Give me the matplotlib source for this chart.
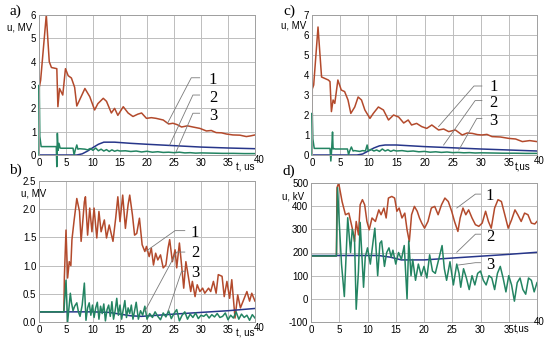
import matplotlib
matplotlib.use("Agg")
import matplotlib.pyplot as plt

# ---- panel a) ----
a1_t = [0, 0.05, 0.3, 1.35, 1.9, 2.3, 3.3, 3.5, 3.8, 4.4, 4.9, 5.4, 6.0, 6.6, 7.0, 7.5, 8.5, 9.4, 10.3, 10.9,
        11.9, 12.5, 13.4, 14.0, 14.6, 15.6, 16.5, 17.4, 18.3, 19.0, 19.9, 20.8, 21.7, 23.0, 24.0, 24.8, 25.6, 26.4,
        27.5, 28.5, 29.8, 31.0, 31.9, 32.8, 33.8, 34.7, 35.9, 37.2, 38.4, 39.2, 40]
a1_u = [0, 2.9, 3.2, 6.0, 4.0, 3.75, 3.7, 2.07, 2.85, 2.57, 3.7, 3.4, 3.3, 2.9, 2.1, 2.35, 2.85, 2.5, 1.93, 2.2,
        2.43, 2.3, 1.8, 2.0, 1.7, 2.07, 1.8, 1.65, 1.75, 1.8, 1.57, 1.6, 1.57, 1.5, 1.33, 1.36, 1.3, 1.2,
        1.25, 1.2, 1.14, 1.03, 1.05, 0.96, 0.95, 0.9, 0.86, 0.85, 0.79, 0.82, 0.86]
a2_t = [0, 7, 8, 9, 10, 11, 12, 14, 17, 20, 25, 30, 35, 40]
a2_u = [0, 0, 0.05, 0.17, 0.32, 0.46, 0.55, 0.55, 0.5, 0.46, 0.4, 0.34, 0.3, 0.27]
a3_t = [0, 0.05, 0.15, 0.4, 3.2, 3.3, 3.4, 3.55, 3.7, 3.9, 4.1, 6.3, 6.5, 6.7, 7.0, 7.2, 7.5, 8.0, 8.5, 9.0,
        9.5, 10, 10.5, 11, 11.5, 12, 12.5, 13, 13.5, 14, 14.5, 15, 16, 17, 18, 19, 20, 21, 22, 23,
        24, 25, 26, 27, 28, 29, 30, 32, 34, 36, 38, 40]
a3_u = [0, 3.0, 0.8, 0.36, 0.36, -0.5, 0.93, 0.2, 0.5, 0.3, 0.29, 0.29, 0.0, 0.2, 0.43, 0.25, 0.27, 0.26, 0.25, 0.22,
        0.28, 0.2, 0.3, 0.18, 0.25, 0.17, 0.23, 0.15, 0.22, 0.16, 0.2, 0.17, 0.18, 0.15, 0.17, 0.13, 0.16, 0.12, 0.14, 0.11,
        0.12, 0.1, 0.12, 0.09, 0.1, 0.08, 0.09, 0.08, 0.07, 0.07, 0.06, 0.06]

# ---- panel b) ----
b1_t = [0, 4.6, 4.7, 5.0, 5.3, 5.6, 5.9, 6.1, 6.5, 7.0, 7.5, 7.8, 8.4, 8.6, 9.0, 9.4, 9.8, 10.2, 10.7, 11.1,
        11.5, 12.1, 12.5, 13.0, 13.7, 14.2, 14.6, 15.0, 15.5, 16.0, 16.5, 16.8, 17.3, 17.7, 18.1, 18.6, 19.1, 19.6, 19.9, 20.4,
        20.8, 21.2, 21.6, 22.0, 22.5, 23.0, 23.5, 23.9, 24.2, 24.7, 25.2, 25.5, 26.0, 26.4, 26.8, 27.2, 27.6, 28.1, 28.4, 28.9,
        29.3, 29.8, 30.3, 30.7, 31.4, 31.8, 32.3, 32.8, 33.2, 33.9, 34.3, 34.8, 35.3, 35.7, 36.3, 36.8, 37.3, 37.8, 38.5, 39.0,
        39.4, 40]
b1_u = [0.18, 0.18, 0.8, 1.63, 0.78, 1.07, 1.0, 1.46, 1.8, 2.19, 1.96, 1.43, 2.13, 2.22, 1.54, 2.02, 1.6, 2.02, 1.49, 1.96,
        1.6, 1.81, 1.49, 1.72, 1.43, 1.84, 2.22, 1.78, 2.25, 1.66, 2.08, 2.25, 1.9, 1.54, 1.57, 1.84, 1.37, 1.25, 1.34, 1.16,
        1.31, 1.01, 1.22, 1.1, 1.19, 0.96, 1.01, 1.31, 1.46, 1.07, 1.28, 0.96, 1.4, 1.01, 0.6, 1.07, 0.84, 0.54, 0.72, 0.45,
        0.66, 0.54, 0.6, 0.51, 0.6, 0.54, 0.72, 0.51, 0.84, 0.81, 0.45, 0.72, 0.42, 0.75, 0.07, 0.48, 0.25, 0.37, 0.54, 0.37,
        0.51, 0.37]
b2_t = [0, 4.6, 10, 13, 15, 17, 19, 22, 25, 30, 35, 40]
b2_u = [0.18, 0.18, 0.18, 0.17, 0.14, 0.11, 0.1, 0.12, 0.14, 0.17, 0.2, 0.24]
b3_t = [0, 4.6, 4.8, 5.0, 5.3, 5.6, 5.8, 6.0, 6.3, 6.6, 7.0, 7.3, 7.6, 8.0, 8.4, 8.7, 9.0, 9.3, 9.6, 9.9,
        10.2, 10.5, 10.8, 11.1, 11.4, 11.7, 12.0, 12.3, 12.6, 12.9, 13.2, 13.5, 13.8, 14.1, 14.4, 14.7, 15.0, 15.3, 15.6, 15.9,
        16.2, 16.5, 16.8, 17.1, 17.4, 17.7, 18.0, 18.4, 18.8, 19.2, 19.6, 20.0,
        20.5, 21.0, 21.5, 22.0, 22.5, 23.0, 23.5, 24.0, 24.5, 25.0, 25.5, 26.0, 26.5, 27.0, 27.5, 28.0, 28.5, 29.0, 29.5, 30.0,
        30.5, 31.0, 31.5, 32.0, 32.5, 33.0, 33.5, 34.0, 34.5, 35.0, 35.5, 36.0, 36.5, 37.0, 37.5, 38.0, 38.5, 39.0, 39.5, 40.0]
b3_u = [0.18, 0.18, 0.45, 0.74, 0.0, 0.3, 0.51, 0.35, 0.2, 0.28, 0.34, 0.18, 0.1, 0.3, 0.69, 0.03, 0.25, 0.34, 0.12, 0.3,
        0.08, 0.25, 0.35, 0.05, 0.28, 0.15, 0.32, 0.02, 0.22, 0.3, 0.1, 0.36, 0.05, 0.2, 0.42, 0.12, 0.3, 0.05, 0.22, 0.38,
        0.08, 0.25, 0.15, 0.3, 0.05, 0.2, 0.35, 0.05, 0.2, 0.12, 0.28, 0.05,
        0.15, 0.08, 0.18, 0.1, 0.04, 0.16, 0.09, 0.2, 0.06, 0.15, 0.22, 0.02, 0.12, 0.18, 0.05, 0.14, 0.08, 0.16, 0.06, 0.12,
        0.1, 0.14, 0.07, 0.13, 0.09, 0.15, 0.08, 0.1, 0.16, 0.04, 0.12, 0.07, 0.18, 0.05, 0.14, 0.08, 0.12, 0.03, 0.13, 0.07]

# ---- panel c) ----
c1_t = [0, 0.05, 0.3, 1.07, 1.7, 2.9, 3.2, 3.45, 3.75, 4.05, 4.6, 5.2, 5.8, 6.4, 6.9, 7.6, 8.2, 8.8, 9.4, 10.3,
        10.9, 11.8, 12.7, 13.6, 14.5, 15.4, 16.3, 17.1, 17.7, 18.6, 19.5, 20.4, 21.3, 22.5, 23.4, 24.3, 25.5, 26.7, 27.6, 28.5,
        29.4, 30.2, 31.1, 32.0, 33.5, 35.0, 36.2, 37.4, 38.7, 40]
c1_u = [0, 3.3, 3.5, 6.4, 3.9, 3.75, 3.67, 2.17, 2.75, 2.58, 3.75, 3.25, 3.17, 2.75, 2.08, 2.4, 2.9, 2.75, 2.25, 1.83,
        2.08, 2.4, 2.25, 1.75, 2.0, 1.9, 1.6, 1.75, 1.5, 1.58, 1.42, 1.33, 1.5, 1.25, 1.3, 1.17, 1.25, 1.0, 1.1, 1.08,
        1.02, 1.0, 1.03, 0.92, 0.9, 0.83, 0.8, 0.67, 0.72, 0.67]
c2_t = [0, 8, 9, 10, 11, 12, 13, 15, 20, 25, 30, 35, 40]
c2_u = [0, 0, 0.05, 0.2, 0.35, 0.46, 0.5, 0.5, 0.42, 0.36, 0.3, 0.25, 0.2]
c3_t = [0, 0.05, 0.15, 0.4, 3.2, 3.35, 3.5, 3.65, 3.75, 3.9, 4.1, 6.3, 6.5, 6.7, 7.0, 7.3, 7.6, 8.0, 8.5, 9.0,
        9.5, 9.8, 10.0, 10.5, 11, 11.5, 12, 12.5, 13, 13.5, 14, 14.5, 15, 16, 17, 18, 19, 20, 21, 22,
        23, 24, 25, 26, 27, 28, 29, 30, 32, 34, 36, 38, 40]
c3_u = [0, 2.1, 0.8, 0.33, 0.33, -0.3, 0.3, 1.15, 0.3, 0.32, 0.3, 0.3, 0.02, 0.2, 0.4, 0.2, 0.22, 0.2, 0.18, 0.22,
        0.2, 0.5, 0.2, 0.28, 0.2, 0.25, 0.18, 0.3, 0.2, 0.26, 0.18, 0.24, 0.2, 0.22, 0.18, 0.2, 0.16, 0.18, 0.14, 0.16,
        0.13, 0.15, 0.12, 0.13, 0.11, 0.12, 0.1, 0.11, 0.1, 0.09, 0.09, 0.08, 0.08]

# ---- panel d) ----
d1_t = [0, 4.5, 4.6, 4.9, 5.5, 6.1, 6.7, 7.3, 7.7, 8.0, 8.4, 8.7, 9.1, 9.5, 9.9, 10.3, 10.8, 11.4, 12.0, 12.4,
        12.9, 13.3, 13.7, 14.3, 14.8, 15.2, 15.6, 16.1, 16.6, 17.0, 17.4, 17.8, 18.3, 18.8, 19.2, 19.6, 20.1, 20.7, 21.3, 21.9,
        22.5, 23.1, 23.7, 24.3, 24.9, 25.4, 26.0, 26.4, 26.9, 27.4, 27.9, 28.5, 29.1, 29.7, 30.3, 30.9, 31.4, 31.9, 32.5, 33.1,
        33.7, 34.3, 34.9, 35.5, 36.1, 36.6, 37.2, 37.8, 38.4, 39.0, 39.6, 40.0]
d1_u = [185, 185, 480, 500, 420, 363, 370, 305, 247, 334, 276, 406, 428, 406, 334, 298, 349, 334, 384, 363,
        392, 349, 435, 442, 435, 378, 392, 349, 370, 298, 247, 363, 399, 378, 349, 327, 305, 334, 392, 399,
        363, 406, 435, 420, 378, 334, 291, 349, 392, 363, 384, 349, 320, 313, 327, 378, 334, 305, 392, 428,
        420, 363, 305, 341, 384, 363, 334, 370, 363, 327, 323, 334]
d2_t = [0, 12, 14, 16, 20, 25, 30, 35, 40]
d2_u = [187, 187, 180, 168, 168, 176, 184, 192, 201]
d3_t = [0, 4.5, 4.7, 5.0, 5.4, 5.9, 6.5, 7.0, 7.3, 7.7, 8.0, 8.4, 8.7, 9.3, 9.6, 10.0, 10.5, 11.0, 11.3, 11.8,
        12.2, 12.5, 13.0, 13.4, 13.8, 14.2, 14.5, 15.0, 15.5, 16.0, 16.5, 17.0, 17.3, 17.7, 18.0, 18.5, 19.0, 19.5, 20.0, 20.5,
        21.0, 21.5, 22.0, 22.5, 23.2, 23.6, 24.0, 24.6, 25.2, 25.8, 26.2, 26.5, 27.0, 27.5, 28.0, 28.5, 29.0, 29.5, 30.0, 30.5,
        31.0, 31.5, 32.0, 32.5, 33.0, 33.5, 34.0, 34.5, 35.0, 35.5, 36.0, 36.5, 37.0, 37.5, 38.0, 38.5, 39.0, 39.5, 40.0]
d3_u = [185, 185, 480, 330, 150, 10, 350, 200, 300, 260, -45, 120, 330, 50, 180, 220, 150, 250, 305, 100,
        240, 250, 140, 200, 220, 180, 210, 150, 200, 170, 230, 0, 250, 100, 170, 80, 150, 100, 140, 90,
        190, 120, 110, 160, 230, 130, 80, 160, 60, 150, 110, 50, 130, 90, 40, 100, 60, 110, 120, 80,
        60, 100, 90, 40, 110, 140, 90, 30, 100, 60, -10, 70, 90, 40, 20, 90, 80, 30, 70]

x_ticks = [0, 5, 10, 15, 20, 25, 30, 35, 40]

col1 = "#b34a2c"   # curve 1
col2 = "#27368a"   # curve 2
col3 = "#238462"   # curve 3
grid_col = "#bdbdbd"
W, H = 550, 343

fig = plt.figure(figsize=(5.5, 3.43), dpi=100)
fig.patch.set_facecolor("white")


def make_ax(l, t, r, b):
    return fig.add_axes([l / W, 1 - b / H, (r - l) / W, (b - t) / H])


def style(ax, ylim, yticks, ylabels):
    ax.set_xlim(0, 40)
    ax.set_ylim(*ylim)
    ax.set_xticks(x_ticks)
    ax.set_yticks(yticks)
    ax.set_yticklabels(ylabels)
    ax.grid(True, color=grid_col, lw=0.7)
    ax.set_axisbelow(True)
    ax.tick_params(length=0, labelsize=7, pad=2)
    for lab in ax.get_xticklabels() + ax.get_yticklabels():
        lab.set_family("Liberation Sans")
    for s in ax.spines.values():
        s.set_color("#a0a0a0")
        s.set_linewidth(0.7)


def leaders(ax, items):
    # label line: short horizontal piece at label height, then slanted to the curve
    for (lx, ly, kx, px, py, txt, tx, ty) in items:
        ax.plot([lx, kx, px], [ly, ly, py], color="#7a7a7a", lw=0.6, clip_on=False)
        ax.text(tx, ty, txt, fontsize=12, family="Liberation Serif", ha="center", va="center")


# a)
ax = make_ax(39, 15, 255, 155)
ax.plot(a1_t, a1_u, color=col1, lw=1.1)
ax.plot(a2_t, a2_u, color=col2, lw=1.1)
ax.plot(a3_t, a3_u, color=col3, lw=1.1, clip_on=False)
style(ax, (0, 6), [0, 1, 2, 3, 4, 5, 6], ["0", "1", "2", "3", "4", "5", "6"])
leaders(ax, [(29.75, 3.31, 28.2, 23.8, 1.36, "1", 32.2, 3.2),
             (29.75, 2.57, 28.5, 24.2, 0.43, "2", 32.2, 2.45),
             (29.75, 1.79, 28.5, 25.4, 0.14, "3", 32.2, 1.68)])

# b)
bx = make_ax(39, 181, 255, 322)
bx.plot(b1_t, b1_u, color=col1, lw=1.1)
bx.plot(b2_t, b2_u, color=col2, lw=1.1)
bx.plot(b3_t, b3_u, color=col3, lw=1.1)
style(bx, (0, 2.5), [0, 0.5, 1.0, 1.5, 2.0, 2.5], ["0.0", "0.5", "1.0", "1.5", "2.0", "2.5"])
leaders(bx, [(27.0, 1.62, 25.2, 19.9, 1.26, "1", 28.9, 1.58),
             (27.0, 1.24, 25.5, 19.6, 0.19, "2", 28.9, 1.22),
             (27.0, 0.9, 26.4, 23.9, 0.19, "3", 28.9, 0.87)])

# c)
cx = make_ax(312, 15, 537, 155)
cx.plot(c1_t, c1_u, color=col1, lw=1.1)
cx.plot(c2_t, c2_u, color=col2, lw=1.1)
cx.plot(c3_t, c3_u, color=col3, lw=1.1, clip_on=False)
style(cx, (0, 7), [0, 1, 2, 3, 4, 5, 6, 7], ["0", "1", "2", "3", "4", "5", "6", "7"])
leaders(cx, [(30.2, 3.45, 28.8, 22.5, 1.42, "1", 32.3, 3.38),
             (30.2, 2.72, 29.0, 23.4, 0.5, "2", 32.3, 2.58),
             (30.2, 1.83, 29.3, 26.1, 0.25, "3", 32.3, 1.72)])

# d)
dx = make_ax(311, 183, 537, 322)
dx.plot(d1_t, d1_u, color=col1, lw=1.1)
dx.plot(d2_t, d2_u, color=col2, lw=1.1)
dx.plot(d3_t, d3_u, color=col3, lw=1.1)
style(dx, (-100, 500), [-100, 0, 100, 200, 300, 400, 500],
      ["-100", "0", "100", "200", "300", "400", "500"])
leaders(dx, [(30.0, 452, 29.1, 25.8, 392, "1", 31.7, 442),
             (30.0, 279, 29.1, 25.8, 201, "2", 31.7, 269),
             (30.0, 156, 29.1, 26.1, 146, "3", 31.7, 146)])

# axis captions
for (x, y, s) in [(20, 27, "u, MV"), (34, 193, "u, MV"), (294, 25, "u, MV"), (293, 197, "u, kV")]:
    fig.text(x / W, 1 - y / H, s, fontsize=7, family="Liberation Sans", ha="center", va="center")
for (x, y, s) in [(245, 168, "t, us"), (245, 334, "t, us"), (523, 168, "t,us"), (522, 329, "t,us")]:
    fig.text(x / W, 1 - y / H, s, fontsize=7, family="Liberation Sans", ha="center", va="center")

# the "40" labels sit a little raised and to the right in the scan
for a in (ax, bx, cx, dx):
    a.get_xticklabels()[-1].set_visible(False)
for (x, y) in [(259, 160), (259, 328), (539, 161), (539, 322)]:
    fig.text(x / W, 1 - y / H, "40", fontsize=7, family="Liberation Sans", ha="center", va="center")

# panel letters
for (x, y, s) in [(15, 11, "a)"), (15, 170, "b)"), (289, 11, "c)"), (289, 171, "d)")]:
    fig.text(x / W, 1 - y / H, s, fontsize=11, family="Liberation Serif", ha="center", va="center")

fig.savefig("out.png", dpi=100)
